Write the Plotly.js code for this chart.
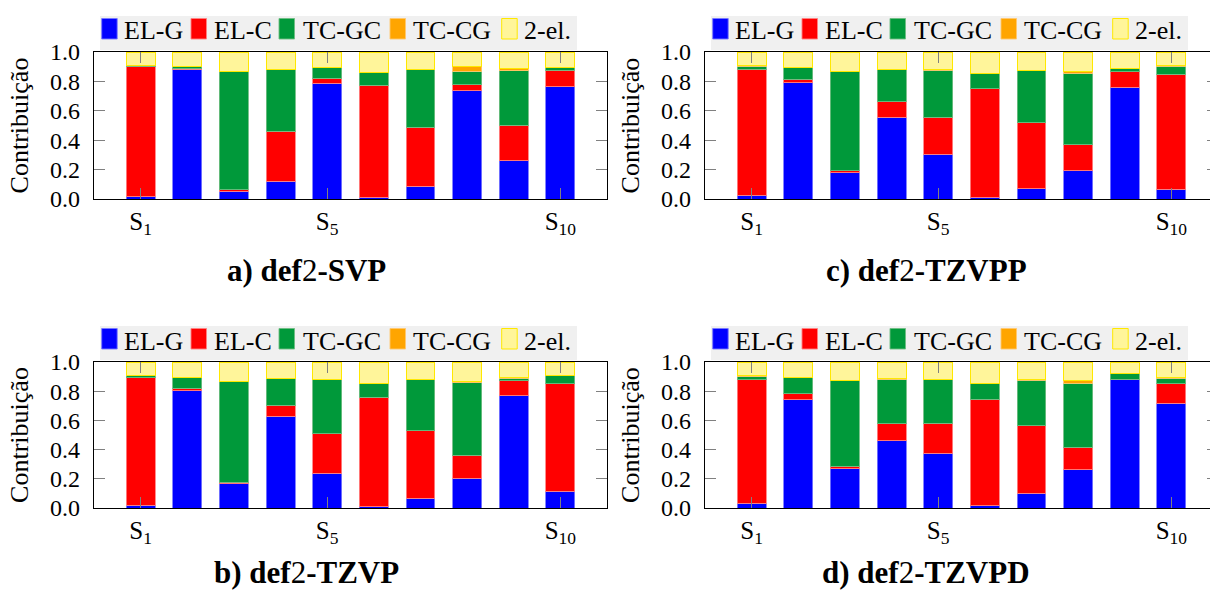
<!DOCTYPE html>
<html>
<head>
<meta charset="utf-8">
<script src="https://cdn.plot.ly/plotly-3.0.1.min.js"></script>
<style>
html,body{margin:0;padding:0;overflow:hidden;background:#fff;}
#chart{width:1230px;height:590px;}
</style>
</head>
<body>
<div id="chart"></div>
<script>
// ---- data ----
const states = [1,2,3,4,5,6,7,8,9,10];
const tickVals = [1,5,10];
const tickText = ['S<sub>1</sub>','S<sub>5</sub>','S<sub>10</sub>'];
const seriesNames = ['EL-G','EL-C','TC-GC','TC-CG','2-el.'];

// a) def2-SVP
const svp_elG  = [0.014,0.884,0.052,0.120,0.787,0.011,0.086,0.737,0.261,0.764];
const svp_elC  = [0.888,0.003,0.011,0.340,0.036,0.762,0.402,0.041,0.242,0.111];
const svp_tcGC = [0.009,0.015,0.805,0.420,0.070,0.086,0.392,0.090,0.370,0.018];
const svp_tcCG = [0.000,0.000,0.000,0.000,0.000,0.000,0.000,0.032,0.014,0.004];
const svp_2el  = [0.089,0.098,0.132,0.120,0.107,0.141,0.120,0.100,0.113,0.103];

// c) def2-TZVPP
const tzvpp_elG  = [0.025,0.791,0.179,0.556,0.306,0.011,0.070,0.193,0.760,0.066];
const tzvpp_elC  = [0.859,0.023,0.014,0.106,0.250,0.740,0.449,0.177,0.106,0.782];
const tzvpp_tcGC = [0.018,0.079,0.673,0.220,0.319,0.102,0.356,0.485,0.021,0.054];
const tzvpp_tcCG = [0.005,0.000,0.000,0.000,0.005,0.000,0.000,0.011,0.004,0.005];
const tzvpp_2el  = [0.093,0.107,0.134,0.118,0.120,0.147,0.125,0.134,0.109,0.093];

// b) def2-TZVP
const tzvp_elG  = [0.018,0.802,0.166,0.629,0.239,0.009,0.068,0.203,0.768,0.114];
const tzvp_elC  = [0.873,0.018,0.012,0.075,0.271,0.750,0.460,0.159,0.102,0.736];
const tzvp_tcGC = [0.016,0.077,0.690,0.180,0.367,0.095,0.349,0.497,0.018,0.059];
const tzvp_tcCG = [0.000,0.000,0.000,0.004,0.000,0.000,0.000,0.009,0.004,0.000];
const tzvp_2el  = [0.093,0.103,0.132,0.112,0.123,0.146,0.123,0.132,0.108,0.091];

// d) def2-TZVPD
const tzvpd_elG  = [0.034,0.740,0.269,0.462,0.374,0.016,0.100,0.262,0.882,0.718];
const tzvpd_elC  = [0.843,0.044,0.018,0.114,0.207,0.729,0.463,0.155,0.000,0.132];
const tzvpd_tcGC = [0.023,0.113,0.583,0.306,0.298,0.105,0.312,0.437,0.041,0.038];
const tzvpd_tcCG = [0.007,0.000,0.000,0.004,0.000,0.004,0.004,0.016,0.000,0.005];
const tzvpd_2el  = [0.093,0.103,0.130,0.114,0.121,0.146,0.121,0.130,0.077,0.107];

// ---- style ----
const fills = ['#0000ff','#ff0000','#00993a','#ffa500','#fff59a'];
const edges = ['rgba(120,120,255,0.9)','rgba(255,130,130,0.9)','rgba(110,190,130,0.9)','rgba(255,200,110,0.9)','#ffe800'];
const FONT = "'Liberation Serif', 'Times New Roman', serif";
const W = 1230, H = 590;
const px = v => v / W, py = v => 1 - v / H;

// legend layout offsets (px, relative to panel's left axis)
const legSwatchX = [7.7, 97, 185, 296, 407.7];
const legTextX   = [28, 118, 207, 317, 428];

const panels = [
  {data:[svp_elG,svp_elC,svp_tcGC,svp_tcCG,svp_2el],           x0:94,  x1:607,  y0:52,  y1:199, title:'<b>a) def</b>2<b>-SVP</b>',   tx:306, ty:270},
  {data:[tzvpp_elG,tzvpp_elC,tzvpp_tcGC,tzvpp_tcCG,tzvpp_2el], x0:705, x1:1218, y0:52,  y1:199, title:'<b>c) def</b>2<b>-TZVPP</b>', tx:926, ty:270},
  {data:[tzvp_elG,tzvp_elC,tzvp_tcGC,tzvp_tcCG,tzvp_2el],      x0:94,  x1:607,  y0:362, y1:508, title:'<b>b) def</b>2<b>-TZVP</b>',  tx:306, ty:572},
  {data:[tzvpd_elG,tzvpd_elC,tzvpd_tcGC,tzvpd_tcCG,tzvpd_2el], x0:705, x1:1218, y0:362, y1:508, title:'<b>d) def</b>2<b>-TZVPD</b>', tx:926, ty:572}
];

const traces = [];
const layout = {
  width: W, height: H,
  margin:{l:0,r:0,t:0,b:0},
  paper_bgcolor:'#fff', plot_bgcolor:'#fff',
  barmode:'stack', bargap:0.38,
  font:{family:FONT, color:'#000', size:23},
  annotations:[], shapes:[],
  showlegend:false
};

panels.forEach((p,i)=>{
  const n = i===0 ? '' : String(i+1);
  const xa = 'x'+n, ya = 'y'+n;
  seriesNames.forEach((name,k)=>{
    traces.push({
      type:'bar', name:name, x:states, y:p.data[k],
      xaxis:xa, yaxis:ya,
      marker:{color:fills[k], line:{color:edges[k], width:1}},
      hoverinfo:'name+y'
    });
  });
  layout['xaxis'+n] = {
    domain:[px(p.x0), px(p.x1)], anchor:ya,
    range:[0,11], showgrid:false, zeroline:false,
    showline:true, linecolor:'#000', linewidth:1.2, mirror:'ticks',
    ticks:'inside', ticklen:11, tickcolor:'#808080', tickwidth:1,
    tickvals:tickVals, ticktext:tickText,
    tickfont:{family:FONT, size:25}, ticklabelstandoff:0
  };
  layout['yaxis'+n] = {
    domain:[py(p.y1), py(p.y0)], anchor:xa,
    range:[0,1], showgrid:false, zeroline:false,
    showline:true, linecolor:'#000', linewidth:1.2, mirror:'ticks',
    ticks:'inside', ticklen:11, tickcolor:'#808080', tickwidth:1,
    tickvals:[0,0.2,0.4,0.6,0.8,1.0], tickformat:'.1f',
    tickfont:{family:FONT, size:24}, ticklabelstandoff:8,
    title:{text:'Contribuição', font:{family:FONT, size:26}, standoff:14}
  };
  // legend box
  layout.shapes.push({type:'rect', xref:'paper', yref:'paper', layer:'above',
    x0:px(p.x0+6), x1:px(p.x0+483), y0:py(p.y0-2), y1:py(p.y0-36),
    fillcolor:'#f0f0f0', line:{width:0}});
  seriesNames.forEach((name,k)=>{
    const sx = p.x0 + legSwatchX[k];
    layout.shapes.push({type:'rect', xref:'paper', yref:'paper', layer:'above',
      x0:px(sx), x1:px(sx+15.5), y0:py(p.y0-13), y1:py(p.y0-33.5),
      fillcolor:fills[k], line:{color:edges[k], width:1}});
    layout.annotations.push({text:name, xref:'paper', yref:'paper',
      x:px(p.x0+legTextX[k]), y:py(p.y0-21), xanchor:'left', yanchor:'middle',
      showarrow:false, font:{family:FONT, size:26, color:'#000'}});
  });
  layout.annotations.push({
    text:p.title, xref:'paper', yref:'paper', x:px(p.tx), y:py(p.ty),
    xanchor:'center', yanchor:'middle', showarrow:false,
    font:{family:FONT, size:31, color:'#000'}
  });
});

Plotly.newPlot('chart', traces, layout, {displayModeBar:false, staticPlot:true});
</script>
</body>
</html>
